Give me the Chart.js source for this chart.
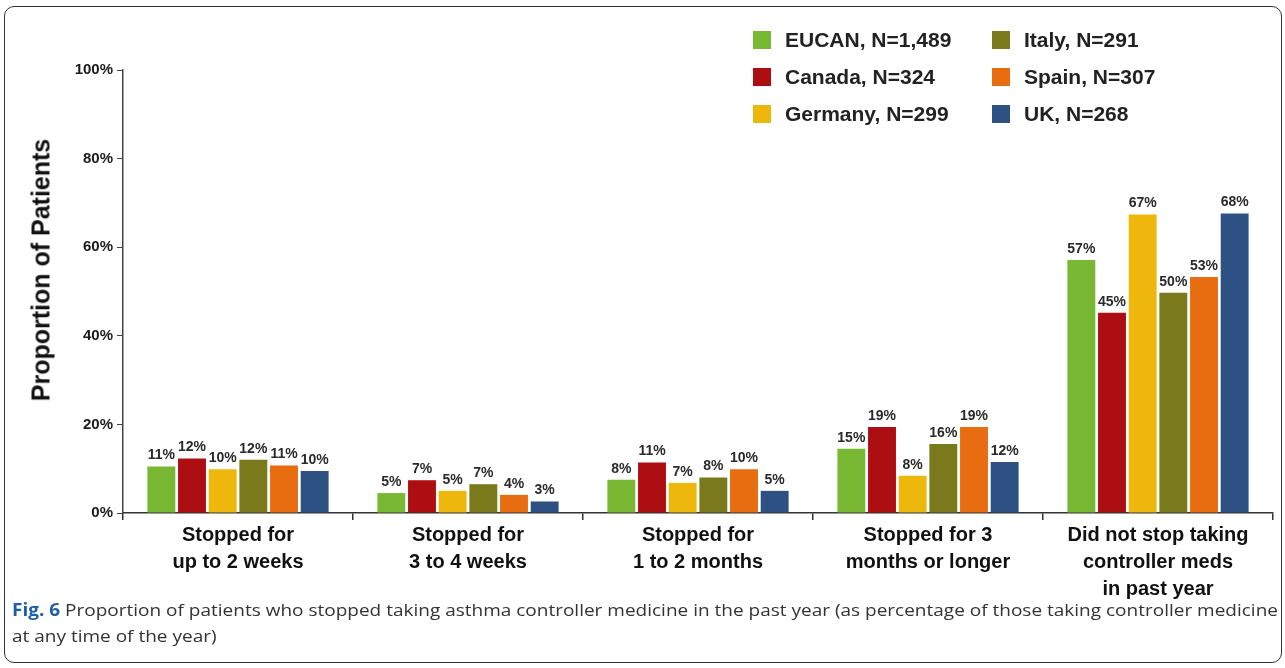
<!DOCTYPE html>
<html>
<head>
<meta charset="utf-8">
<script src="https://cdn.jsdelivr.net/npm/chart.js@4"></script>
<style>
  html, body { margin: 0; padding: 0; background: #fff; }
  body { width: 1285px; height: 668px; position: relative; overflow: hidden; font-family: "Liberation Sans", Arial, sans-serif; }
  #frame { position: absolute; left: 4px; top: 6px; width: 1278px; height: 657px; border: 1px solid #333; border-radius: 10px; box-sizing: border-box; }
  #wrap { position: absolute; left: 0; top: 0; width: 1285px; height: 600px; }
  #ytitle { position: absolute; left: 41px; top: 270px; transform: translate(-50%, -50%) rotate(-90deg); font: bold 25px "Liberation Sans", Arial, sans-serif; color: #111; white-space: nowrap; }
  #legend { position: absolute; left: 0; top: 0; }
  .li { position: absolute; display: flex; align-items: center; font: bold 21px "Liberation Sans", Arial, sans-serif; color: #222; white-space: nowrap; }
  .sw { width: 18px; height: 18px; margin-right: 14px; }
  #caption { position: absolute; left: 12px; top: 597px; font: 17px "Open Sans", sans-serif; color: #333; line-height: 26px; white-space: nowrap; }
  #caption b { color: #1f5fa8; }
  .cl { display: block; transform-origin: 0 0; }
</style>
</head>
<body>
<div id="frame"></div>
<div id="wrap"><canvas id="c"></canvas></div>
<div id="ytitle">Proportion of Patients</div>
<div id="legend"></div>
<div id="caption"><span class="cl" id="cl1"><b>Fig. 6</b> Proportion of patients who stopped taking asthma controller medicine in the past year (as percentage of those taking controller medicine</span><span class="cl">at any time of the year)</span></div>
<script>
const categories = [
  ["Stopped for", "up to 2 weeks"],
  ["Stopped for", "3 to 4 weeks"],
  ["Stopped for", "1 to 2 months"],
  ["Stopped for 3", "months or longer"],
  ["Did not stop taking", "controller meds", "in past year"]
];
const seriesNames = ["EUCAN, N=1,489", "Canada, N=324", "Germany, N=299", "Italy, N=291", "Spain, N=307", "UK, N=268"];
const eucan   = [10.5, 4.5, 7.5, 14.5, 57.1];
const canada  = [12.3, 7.4, 11.4, 19.4, 45.2];
const germany = [9.9, 5.0, 6.8, 8.4, 67.4];
const italy   = [12.0, 6.5, 8.0, 15.6, 49.7];
const spain   = [10.7, 4.1, 9.9, 19.4, 53.3];
const uk      = [9.5, 2.6, 5.0, 11.5, 67.6];
const yTicks = [0, 20, 40, 60, 80, 100];

const seriesValues = [eucan, canada, germany, italy, spain, uk];
const colors = ["#78b833", "#ad0e12", "#eeb70b", "#7a7a1c", "#e86d10", "#2e5183"];

// HTML legend (column-major, 2 columns x 3 rows)
const legendPos = [[753, 40], [753, 77], [753, 114], [992, 40], [992, 77], [992, 114]];
const legend = document.getElementById('legend');
seriesNames.forEach((n, i) => {
  const d = document.createElement('div');
  d.className = 'li';
  d.style.left = legendPos[i][0] + 'px';
  d.style.top = (legendPos[i][1] - 12) + 'px';
  d.innerHTML = '<span class="sw" style="background:' + colors[i] + '"></span><span>' + n + '</span>';
  legend.appendChild(d);
});

const valueLabels = {
  id: 'valueLabels',
  afterDatasetsDraw(chart) {
    const ctx = chart.ctx;
    ctx.save();
    ctx.font = 'bold 14px "Liberation Sans", Arial, sans-serif';
    ctx.fillStyle = '#2a2a2a';
    ctx.textAlign = 'center';
    ctx.textBaseline = 'bottom';
    chart.data.datasets.forEach((ds, di) => {
      const meta = chart.getDatasetMeta(di);
      meta.data.forEach((el, i) => {
        ctx.fillText(Math.round(ds.data[i]) + '%', el.x, el.y - 4);
      });
    });
    ctx.restore();
  }
};

new Chart(document.getElementById('c'), {
  type: 'bar',
  data: {
    labels: categories,
    datasets: seriesNames.map((n, i) => ({
      label: n,
      data: seriesValues[i],
      backgroundColor: colors[i],
      categoryPercentage: 0.8,
      barPercentage: 0.91
    }))
  },
  options: {
    responsive: true,
    maintainAspectRatio: false,
    animation: false,
    layout: { padding: { left: 0, right: 12, top: 70, bottom: 0 } },
    plugins: { legend: { display: false }, tooltip: { enabled: false } },
    scales: {
      x: {
        afterFit(s) { s.height = 87; },
        grid: { display: true, drawOnChartArea: false, offset: true, tickLength: 7, color: '#333', lineWidth: 1.5 },
        border: { display: true, color: '#333', width: 1.5 },
        ticks: { color: '#111', font: { family: '"Liberation Sans", Arial, sans-serif', size: 20, weight: 'bold', lineHeight: 1.35 }, padding: 2, maxRotation: 0, autoSkip: false }
      },
      y: {
        min: 0, max: 100,
        afterFit(s) { s.width = 123; },
        afterBuildTicks(s) { s.ticks = yTicks.map(v => ({ value: v })); },
        grid: { display: true, drawOnChartArea: false, tickLength: 6, color: '#444' },
        border: { display: true, color: '#444', width: 1.5 },
        ticks: { color: '#1a1a1a', font: { family: '"Liberation Sans", Arial, sans-serif', size: 15, weight: 'bold' }, padding: 4, callback: v => v + '%' }
      }
    }
  },
  plugins: [valueLabels]
});

// fit caption line 1 to the frame width
const cl1 = document.getElementById('cl1');
const w = cl1.scrollWidth;
const target = 1266;
const sx = target / w;
document.querySelectorAll('.cl').forEach(el => { el.style.transform = 'scaleX(' + sx + ')'; });
</script>
</body>
</html>
